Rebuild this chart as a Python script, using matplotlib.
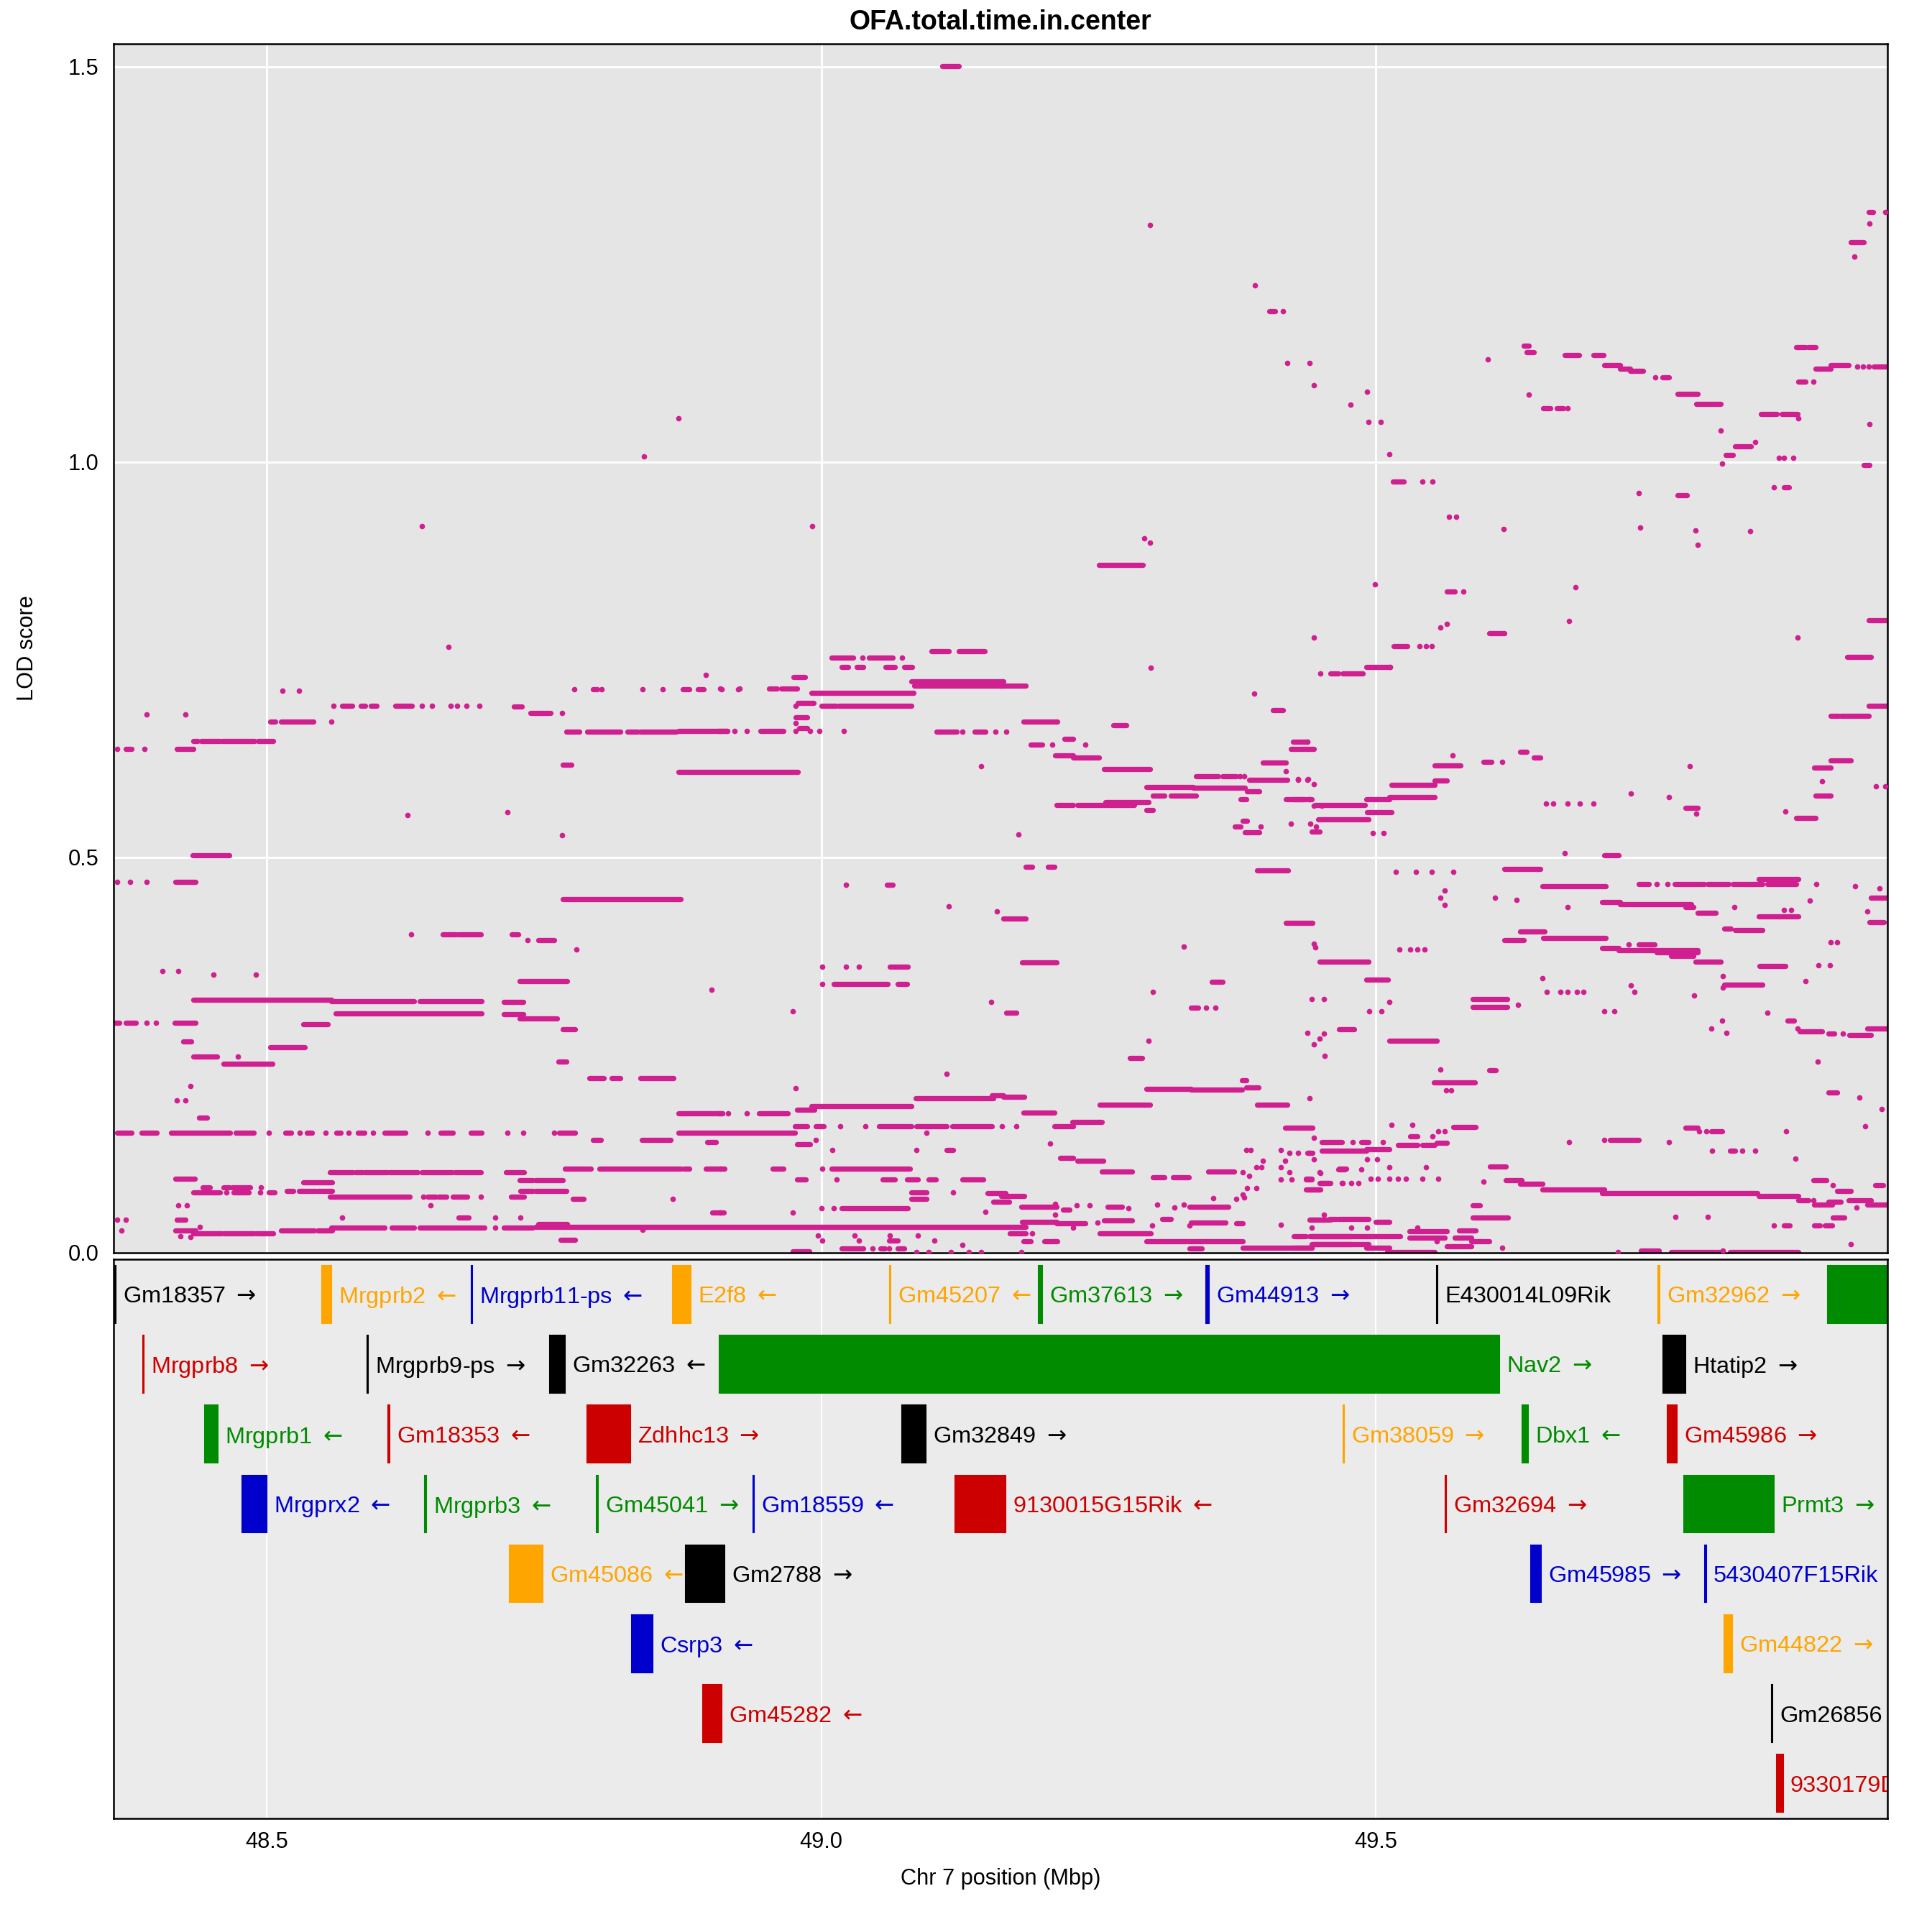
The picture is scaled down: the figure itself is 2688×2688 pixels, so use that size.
import matplotlib
matplotlib.use("Agg")
import matplotlib.pyplot as plt
from matplotlib.patches import Rectangle

plt.rcParams['font.family'] = ['Liberation Sans', 'DejaVu Sans']
plt.rcParams['mathtext.fontset'] = 'dejavusans'

# --- runs of SNPs sharing one LOD value: (start Mbp, end Mbp, LOD) ---
runs_left = [
    (48.568, 48.577, 0.692), (48.585, 48.589, 0.692), (48.594, 48.599, 0.692), (48.616, 48.631, 0.692),
    (48.723, 48.730, 0.691), (48.738, 48.756, 0.683),
    (48.794, 48.798, 0.713), (48.875, 48.881, 0.713), (48.889, 48.894, 0.713),
    (48.503, 48.508, 0.672), (48.513, 48.542, 0.672),
    (48.770, 48.782, 0.659), (48.789, 48.819, 0.659), (48.825, 48.834, 0.659), (48.837, 48.869, 0.659),
    (48.871, 48.915, 0.660),
    (48.434, 48.438, 0.647), (48.441, 48.458, 0.647), (48.460, 48.489, 0.647), (48.492, 48.506, 0.647),
    (48.373, 48.378, 0.637), (48.419, 48.434, 0.637),
    (48.767, 48.775, 0.617), (48.871, 48.979, 0.608),
    (48.433, 48.466, 0.503), (48.418, 48.436, 0.469), (48.767, 48.873, 0.447),
    (48.659, 48.671, 0.403), (48.673, 48.693, 0.403), (48.721, 48.727, 0.403), (48.745, 48.759, 0.395),
    (48.728, 48.771, 0.344),
    (48.434, 48.558, 0.320), (48.558, 48.633, 0.318), (48.638, 48.694, 0.318), (48.714, 48.731, 0.317),
    (48.562, 48.694, 0.303), (48.714, 48.731, 0.302), (48.728, 48.762, 0.296),
    (48.362, 48.367, 0.291), (48.373, 48.382, 0.291), (48.417, 48.436, 0.291),
    (48.533, 48.555, 0.289), (48.767, 48.778, 0.283), (48.425, 48.432, 0.267),
    (48.503, 48.534, 0.260), (48.434, 48.455, 0.248), (48.461, 48.505, 0.239), (48.763, 48.770, 0.242),
    (48.791, 48.804, 0.221), (48.811, 48.819, 0.221), (48.837, 48.867, 0.221),
    (48.871, 48.911, 0.176), (48.439, 48.446, 0.171),
    (48.365, 48.378, 0.152), (48.387, 48.401, 0.152), (48.414, 48.467, 0.152), (48.472, 48.488, 0.152),
    (48.517, 48.522, 0.152), (48.536, 48.541, 0.152), (48.563, 48.567, 0.152), (48.582, 48.588, 0.152),
    (48.606, 48.625, 0.152), (48.657, 48.668, 0.152), (48.684, 48.694, 0.152), (48.764, 48.778, 0.152),
    (48.871, 48.976, 0.152),
    (48.794, 48.801, 0.143), (48.838, 48.864, 0.143), (48.897, 48.905, 0.140),
    (48.769, 48.792, 0.106), (48.800, 48.873, 0.106), (48.876, 48.881, 0.106), (48.896, 48.913, 0.106),
    (48.557, 48.578, 0.102), (48.580, 48.587, 0.102), (48.589, 48.609, 0.102), (48.611, 48.636, 0.102),
    (48.640, 48.667, 0.102), (48.670, 48.693, 0.102), (48.716, 48.732, 0.102),
    (48.418, 48.435, 0.094), (48.728, 48.740, 0.092), (48.742, 48.767, 0.092), (48.533, 48.559, 0.089),
    (48.442, 48.449, 0.083), (48.461, 48.466, 0.083), (48.469, 48.485, 0.083),
    (48.729, 48.740, 0.078), (48.742, 48.770, 0.078), (48.529, 48.544, 0.078), (48.546, 48.559, 0.078),
    (48.518, 48.524, 0.078),
    (48.434, 48.458, 0.076), (48.470, 48.484, 0.076), (48.502, 48.507, 0.076),
    (48.557, 48.629, 0.071), (48.645, 48.652, 0.071), (48.655, 48.662, 0.071), (48.668, 48.681, 0.071),
    (48.720, 48.732, 0.071), (48.776, 48.786, 0.068),
    (48.902, 48.912, 0.051), (48.673, 48.682, 0.044), (48.419, 48.427, 0.042),
    (48.558, 48.606, 0.032), (48.613, 48.633, 0.032), (48.638, 48.696, 0.032), (48.714, 48.740, 0.032),
    (48.742, 49.184, 0.033), (48.745, 48.771, 0.036),
    (48.418, 48.436, 0.028), (48.513, 48.543, 0.028), (48.546, 48.559, 0.028),
    (48.434, 48.460, 0.024), (48.462, 48.489, 0.024), (48.491, 48.506, 0.024), (48.765, 48.778, 0.016),
]

runs_mid = [
    (49.109, 49.124, 1.501), (49.250, 49.290, 0.870),
    (49.099, 49.115, 0.761), (49.124, 49.147, 0.761),
    (49.009, 49.029, 0.753), (49.043, 49.064, 0.753),
    (49.018, 49.024, 0.741), (49.032, 49.038, 0.741), (49.058, 49.066, 0.741), (49.075, 49.082, 0.741),
    (48.975, 48.985, 0.728),
    (49.081, 49.164, 0.723), (49.084, 49.164, 0.717), (49.161, 49.184, 0.717),
    (48.953, 48.960, 0.714), (48.964, 48.978, 0.714), (48.991, 49.083, 0.708), (48.979, 48.993, 0.695),
    (49.000, 49.013, 0.692), (49.016, 49.081, 0.692), (49.407, 49.416, 0.686), (48.977, 48.987, 0.677),
    (49.182, 49.213, 0.672), (49.263, 49.275, 0.667), (48.980, 48.987, 0.664),
    (48.907, 48.915, 0.660), (48.945, 48.966, 0.660), (49.104, 49.122, 0.659), (49.138, 49.148, 0.659),
    (49.219, 49.227, 0.650), (49.425, 49.438, 0.646), (49.189, 49.199, 0.643), (49.423, 49.444, 0.637),
    (49.211, 49.227, 0.629), (49.227, 49.250, 0.626), (49.398, 49.419, 0.620), (49.255, 49.296, 0.612),
    (49.338, 49.358, 0.603), (49.362, 49.374, 0.603), (49.386, 49.420, 0.598),
    (49.293, 49.335, 0.589), (49.335, 49.382, 0.588), (49.384, 49.395, 0.584),
    (49.299, 49.309, 0.578), (49.315, 49.338, 0.578), (49.378, 49.383, 0.574), (49.419, 49.435, 0.574),
    (49.256, 49.295, 0.570), (49.212, 49.227, 0.566), (49.231, 49.256, 0.566), (49.257, 49.282, 0.566),
    (49.445, 49.490, 0.566), (49.293, 49.299, 0.560), (49.448, 49.493, 0.548), (49.380, 49.384, 0.546),
    (49.373, 49.378, 0.539), (49.442, 49.449, 0.533), (49.382, 49.395, 0.532),
    (49.184, 49.190, 0.488), (49.204, 49.210, 0.488), (49.393, 49.421, 0.484), (49.059, 49.064, 0.465),
    (49.164, 49.184, 0.423), (49.419, 49.443, 0.417), (49.449, 49.493, 0.368), (49.181, 49.212, 0.367),
    (49.062, 49.078, 0.362), (49.352, 49.362, 0.343), (49.011, 49.060, 0.340), (49.069, 49.077, 0.340),
    (49.333, 49.340, 0.310), (49.167, 49.176, 0.304), (49.467, 49.480, 0.283), (49.278, 49.289, 0.246),
    (49.379, 49.383, 0.218), (49.383, 49.394, 0.209), (49.293, 49.333, 0.207), (49.333, 49.379, 0.206),
    (49.154, 49.164, 0.199), (49.085, 49.155, 0.195), (49.164, 49.183, 0.197),
    (49.251, 49.296, 0.187), (49.393, 49.420, 0.187), (48.991, 49.081, 0.185), (48.978, 48.994, 0.181),
    (49.182, 49.210, 0.177), (48.907, 48.911, 0.176), (48.944, 48.970, 0.176),
    (49.226, 49.253, 0.165), (49.210, 49.227, 0.160),
    (48.976, 48.987, 0.160), (48.995, 49.002, 0.160), (49.052, 49.081, 0.160), (49.086, 49.113, 0.160),
    (49.118, 49.154, 0.160), (49.418, 49.443, 0.158),
    (48.978, 48.990, 0.137), (49.113, 49.119, 0.130), (49.215, 49.227, 0.120), (49.231, 49.254, 0.116),
    (48.956, 48.966, 0.106), (49.009, 49.080, 0.106), (49.253, 49.280, 0.103), (49.349, 49.372, 0.103),
    (49.299, 49.309, 0.095), (49.317, 49.331, 0.095),
    (48.978, 48.986, 0.093), (49.055, 49.066, 0.093), (49.077, 49.087, 0.093), (49.097, 49.103, 0.093),
    (49.127, 49.146, 0.093), (49.437, 49.442, 0.093),
    (49.449, 49.458, 0.088), (49.438, 49.449, 0.080), (49.081, 49.095, 0.076), (49.081, 49.095, 0.068),
    (49.150, 49.166, 0.075), (49.162, 49.183, 0.072), (49.155, 49.169, 0.064),
    (49.180, 49.212, 0.058), (49.332, 49.367, 0.058), (49.258, 49.271, 0.058), (49.218, 49.224, 0.054),
    (49.018, 49.078, 0.056), (49.307, 49.315, 0.043), (49.255, 49.280, 0.041),
    (49.181, 49.212, 0.039), (49.212, 49.238, 0.037), (49.333, 49.364, 0.038), (49.374, 49.380, 0.037),
    (49.441, 49.449, 0.042), (49.458, 49.464, 0.043), (49.467, 49.473, 0.106),
    (49.251, 49.297, 0.024), (49.170, 49.184, 0.024), (49.442, 49.478, 0.021),
    (49.293, 49.380, 0.014), (49.182, 49.189, 0.014), (49.201, 49.213, 0.014), (49.061, 49.069, 0.015),
    (49.442, 49.478, 0.011), (49.380, 49.442, 0.006), (49.332, 49.343, 0.005),
    (49.018, 49.038, 0.005), (49.053, 49.057, 0.005), (49.069, 49.075, 0.005), (48.974, 48.989, 0.002),
]

runs_right = [
    (49.925, 49.946, 0.754), (49.491, 49.513, 0.741), (49.459, 49.466, 0.733), (49.470, 49.488, 0.733),
    (49.944, 49.961, 0.692), (49.910, 49.917, 0.679), (49.919, 49.944, 0.679),
    (49.630, 49.636, 0.634), (49.642, 49.648, 0.626), (49.597, 49.604, 0.621), (49.910, 49.928, 0.623),
    (49.553, 49.576, 0.616), (49.895, 49.910, 0.614), (49.553, 49.564, 0.597), (49.514, 49.553, 0.592),
    (49.896, 49.910, 0.578), (49.512, 49.553, 0.576), (49.426, 49.442, 0.574), (49.491, 49.512, 0.574),
    (49.779, 49.790, 0.563), (49.492, 49.514, 0.557), (49.879, 49.896, 0.550), (49.706, 49.719, 0.503),
    (49.616, 49.648, 0.485), (49.845, 49.881, 0.473),
    (49.737, 49.746, 0.466), (49.769, 49.796, 0.466), (49.799, 49.818, 0.466), (49.822, 49.848, 0.466),
    (49.853, 49.879, 0.466), (49.650, 49.707, 0.464), (49.946, 49.961, 0.449),
    (49.704, 49.720, 0.444), (49.720, 49.784, 0.441), (49.779, 49.786, 0.437), (49.790, 49.806, 0.430),
    (49.845, 49.881, 0.425), (49.945, 49.958, 0.418), (49.814, 49.820, 0.410), (49.824, 49.848, 0.408),
    (49.630, 49.652, 0.406), (49.651, 49.707, 0.398), (49.616, 49.633, 0.395),
    (49.704, 49.719, 0.385), (49.719, 49.790, 0.383), (49.737, 49.751, 0.390), (49.753, 49.790, 0.380),
    (49.766, 49.786, 0.375), (49.788, 49.811, 0.368), (49.846, 49.869, 0.363), (49.491, 49.511, 0.345),
    (49.814, 49.848, 0.339), (49.587, 49.618, 0.321), (49.587, 49.618, 0.311), (49.871, 49.877, 0.294),
    (49.943, 49.961, 0.284), (49.882, 49.902, 0.280), (49.908, 49.913, 0.277), (49.927, 49.946, 0.275),
    (49.512, 49.555, 0.268), (49.602, 49.608, 0.231), (49.552, 49.589, 0.215), (49.908, 49.916, 0.203),
    (49.570, 49.590, 0.159), (49.779, 49.790, 0.158), (49.802, 49.812, 0.154), (49.531, 49.537, 0.147),
    (49.711, 49.737, 0.143), (49.451, 49.469, 0.140), (49.487, 49.493, 0.140), (49.555, 49.564, 0.139),
    (49.520, 49.537, 0.136), (49.542, 49.553, 0.136), (49.491, 49.512, 0.131), (49.451, 49.491, 0.129),
    (49.819, 49.824, 0.129), (49.438, 49.443, 0.126), (49.603, 49.617, 0.109), (49.466, 49.472, 0.105),
    (49.437, 49.442, 0.094), (49.894, 49.906, 0.092), (49.617, 49.631, 0.092), (49.450, 49.459, 0.088),
    (49.630, 49.650, 0.087), (49.950, 49.957, 0.085), (49.437, 49.450, 0.080), (49.650, 49.706, 0.080),
    (49.916, 49.928, 0.078), (49.704, 49.782, 0.075), (49.782, 49.844, 0.075), (49.845, 49.881, 0.072),
    (49.881, 49.890, 0.066), (49.926, 49.946, 0.066), (49.908, 49.919, 0.064),
    (49.895, 49.911, 0.061), (49.943, 49.961, 0.061), (49.587, 49.594, 0.060),
    (49.587, 49.619, 0.044), (49.912, 49.922, 0.044), (49.466, 49.493, 0.043), (49.440, 49.459, 0.042),
    (49.500, 49.512, 0.039), (49.868, 49.873, 0.034), (49.895, 49.900, 0.034), (49.905, 49.911, 0.034),
    (49.575, 49.590, 0.028), (49.530, 49.564, 0.027), (49.440, 49.522, 0.021), (49.426, 49.437, 0.021),
    (49.530, 49.562, 0.019), (49.571, 49.586, 0.019), (49.586, 49.602, 0.014), (49.444, 49.493, 0.011),
    (49.564, 49.586, 0.008), (49.426, 49.442, 0.006), (49.491, 49.512, 0.006), (49.739, 49.755, 0.003),
    (49.510, 49.553, 0.001), (49.766, 49.811, 0.001), (49.819, 49.881, 0.001),
]

runs_top = [
    (49.404, 49.409, 1.191), (49.515, 49.525, 0.975), (49.633, 49.638, 1.147), (49.636, 49.642, 1.139),
    (49.651, 49.657, 1.068), (49.663, 49.669, 1.068), (49.670, 49.683, 1.135), (49.696, 49.705, 1.135),
    (49.706, 49.720, 1.123), (49.720, 49.729, 1.118), (49.729, 49.741, 1.115), (49.758, 49.764, 1.107),
    (49.772, 49.790, 1.086), (49.789, 49.811, 1.074), (49.815, 49.822, 1.009), (49.824, 49.838, 1.020),
    (49.847, 49.861, 1.061), (49.866, 49.880, 1.061), (49.868, 49.872, 0.968),
    (49.879, 49.887, 1.145), (49.890, 49.896, 1.145), (49.881, 49.887, 1.102),
    (49.896, 49.910, 1.118), (49.910, 49.926, 1.123), (49.949, 49.962, 1.121), (49.940, 49.945, 0.996),
    (49.928, 49.940, 1.278), (49.944, 49.948, 1.316), (49.772, 49.780, 0.958),
    (49.564, 49.571, 0.836), (49.602, 49.616, 0.784), (49.516, 49.528, 0.767),
    (49.944, 49.962, 0.800),
]

# --- isolated SNPs: (Mbp, LOD) ---
snps_left = [
    (48.560, 0.692), (48.640, 0.692), (48.649, 0.692), (48.666, 0.692), (48.672, 0.692), (48.680, 0.692),
    (48.692, 0.692), (48.766, 0.683),
    (48.777, 0.713), (48.802, 0.713), (48.839, 0.713), (48.857, 0.713), (48.910, 0.713), (48.925, 0.713),
    (48.514, 0.711), (48.529, 0.711), (48.896, 0.731), (48.664, 0.766),
    (48.392, 0.681), (48.427, 0.681), (48.558, 0.672), (48.922, 0.660), (48.365, 0.637), (48.390, 0.637),
    (48.717, 0.557), (48.627, 0.554), (48.766, 0.528), (48.365, 0.469), (48.377, 0.469), (48.392, 0.469),
    (48.630, 0.403), (48.735, 0.395), (48.779, 0.384),
    (48.406, 0.356), (48.420, 0.356), (48.452, 0.352), (48.490, 0.352), (48.901, 0.333),
    (48.392, 0.291), (48.400, 0.291), (48.474, 0.248), (48.431, 0.211), (48.419, 0.193), (48.427, 0.193),
    (48.502, 0.152), (48.530, 0.152), (48.553, 0.152), (48.574, 0.152), (48.596, 0.152), (48.645, 0.152),
    (48.717, 0.152), (48.731, 0.152), (48.759, 0.152),
    (48.464, 0.076), (48.494, 0.076), (48.495, 0.083), (48.641, 0.071), (48.693, 0.071), (48.866, 0.068),
    (48.420, 0.060), (48.428, 0.060), (48.648, 0.060), (48.568, 0.044), (48.706, 0.044), (48.729, 0.044),
    (48.365, 0.042), (48.373, 0.042), (48.440, 0.033), (48.706, 0.032),
    (48.369, 0.028), (48.422, 0.021), (48.431, 0.020), (48.839, 0.029),
    (48.871, 1.055), (48.840, 1.007), (48.640, 0.919),
]

snps_mid = [
    (49.037, 0.753), (49.073, 0.753), (49.297, 0.740), (48.909, 0.714), (48.926, 0.714), (49.390, 0.707),
    (48.977, 0.692), (48.977, 0.670),
    (48.933, 0.660), (48.977, 0.660), (48.990, 0.660), (48.998, 0.660), (49.020, 0.660),
    (49.127, 0.659), (49.157, 0.659), (49.167, 0.659), (49.208, 0.643), (49.238, 0.643), (49.144, 0.615),
    (49.419, 0.609), (49.377, 0.603), (49.381, 0.603), (49.430, 0.598), (49.438, 0.598), (49.444, 0.593),
    (49.440, 0.574), (49.423, 0.543), (49.441, 0.543), (49.396, 0.539), (49.446, 0.539),
    (49.178, 0.529), (49.022, 0.465), (49.115, 0.438), (49.158, 0.432), (49.327, 0.387),
    (49.001, 0.362), (49.022, 0.362), (49.034, 0.362), (49.001, 0.340), (49.299, 0.330),
    (49.442, 0.321), (49.453, 0.321), (49.153, 0.317), (49.347, 0.310), (49.355, 0.310), (48.974, 0.305),
    (49.438, 0.278), (49.444, 0.264), (49.449, 0.271), (49.453, 0.277), (49.454, 0.249),
    (49.295, 0.268), (49.113, 0.226), (48.977, 0.208), (49.440, 0.195),
    (48.916, 0.176), (48.933, 0.176), (49.017, 0.160), (49.040, 0.160), (49.163, 0.160), (49.176, 0.160),
    (49.095, 0.152), (48.995, 0.143), (49.206, 0.138), (49.010, 0.130), (49.086, 0.130),
    (48.909, 0.106), (49.001, 0.106), (49.014, 0.093),
    (49.000, 0.056), (49.011, 0.056), (48.909, 0.051), (48.974, 0.051), (49.046, 0.005), (49.061, 0.005),
    (49.383, 0.130), (49.387, 0.130), (49.398, 0.116), (49.392, 0.108), (49.397, 0.108), (49.380, 0.102),
    (49.386, 0.097), (49.384, 0.082), (49.392, 0.082), (49.380, 0.074), (49.381, 0.070), (49.374, 0.068),
    (49.353, 0.069), (49.414, 0.130), (49.418, 0.116), (49.422, 0.126), (49.440, 0.126), (49.444, 0.145),
    (49.414, 0.108), (49.422, 0.102), (49.414, 0.093), (49.424, 0.093), (49.449, 0.102), (49.469, 0.088),
    (49.298, 0.034), (49.303, 0.061), (49.318, 0.057), (49.327, 0.061), (49.332, 0.034), (49.414, 0.035),
    (49.453, 0.048), (49.227, 0.032), (49.249, 0.038), (49.277, 0.056), (49.230, 0.060), (49.242, 0.060),
    (49.211, 0.048), (49.211, 0.062), (49.148, 0.052), (49.119, 0.076),
    (49.001, 0.015), (48.997, 0.022), (49.030, 0.022), (49.034, 0.015), (49.062, 0.022), (49.087, 0.022),
    (49.102, 0.015), (49.127, 0.010), (49.190, 0.024),
    (49.086, 0.001), (49.097, 0.001), (49.117, 0.001), (49.133, 0.001), (49.144, 0.001), (49.180, 0.001),
    (49.296, 1.300), (48.992, 0.919), (49.291, 0.904), (49.296, 0.898),
]

snps_right = [
    (49.450, 0.733), (49.438, 0.646), (49.569, 0.629), (49.614, 0.621), (49.783, 0.615),
    (49.430, 0.599), (49.439, 0.599), (49.902, 0.596), (49.951, 0.590), (49.959, 0.590),
    (49.730, 0.581), (49.764, 0.576),
    (49.653, 0.568), (49.660, 0.568), (49.673, 0.568), (49.684, 0.568), (49.696, 0.568),
    (49.444, 0.565), (49.451, 0.565), (49.869, 0.558), (49.789, 0.555),
    (49.497, 0.531), (49.507, 0.531), (49.670, 0.505),
    (49.518, 0.482), (49.536, 0.482), (49.550, 0.482), (49.570, 0.482),
    (49.753, 0.466), (49.763, 0.466), (49.897, 0.466), (49.932, 0.464), (49.954, 0.461),
    (49.562, 0.458), (49.558, 0.449), (49.607, 0.449), (49.627, 0.446), (49.891, 0.445), (49.562, 0.440),
    (49.673, 0.437), (49.823, 0.437), (49.868, 0.434), (49.874, 0.434), (49.943, 0.432),
    (49.910, 0.393), (49.916, 0.393), (49.444, 0.391), (49.445, 0.386), (49.728, 0.390),
    (49.521, 0.384), (49.531, 0.384), (49.537, 0.384), (49.544, 0.384),
    (49.899, 0.364), (49.909, 0.364), (49.813, 0.350), (49.650, 0.347), (49.887, 0.344),
    (49.730, 0.338), (49.813, 0.335),
    (49.654, 0.330), (49.666, 0.330), (49.673, 0.330), (49.681, 0.330), (49.687, 0.330), (49.733, 0.330),
    (49.787, 0.325), (49.512, 0.317), (49.628, 0.314),
    (49.494, 0.305), (49.505, 0.305), (49.706, 0.305), (49.715, 0.305), (49.853, 0.304),
    (49.812, 0.294), (49.802, 0.284), (49.880, 0.284), (49.816, 0.278), (49.921, 0.277),
    (49.898, 0.242), (49.558, 0.232), (49.563, 0.205), (49.568, 0.205), (49.936, 0.196), (49.956, 0.182),
    (49.514, 0.162), (49.533, 0.162), (49.941, 0.160),
    (49.791, 0.154), (49.798, 0.154), (49.870, 0.154), (49.556, 0.154), (49.562, 0.154),
    (49.551, 0.147), (49.706, 0.143), (49.479, 0.140), (49.506, 0.140), (49.674, 0.140), (49.764, 0.140),
    (49.803, 0.129), (49.830, 0.129), (49.842, 0.129), (49.430, 0.126), (49.878, 0.119),
    (49.444, 0.118), (49.492, 0.118), (49.501, 0.118), (49.512, 0.108), (49.545, 0.108), (49.487, 0.105),
    (49.450, 0.101),
    (49.495, 0.094), (49.502, 0.094), (49.512, 0.094), (49.520, 0.094), (49.527, 0.094), (49.542, 0.094),
    (49.556, 0.094), (49.597, 0.090), (49.470, 0.088), (49.478, 0.088), (49.484, 0.088), (49.912, 0.085),
    (49.894, 0.066), (49.933, 0.057), (49.770, 0.045), (49.799, 0.045),
    (49.859, 0.034), (49.442, 0.032), (49.478, 0.032), (49.492, 0.032), (49.537, 0.032),
    (49.555, 0.014), (49.928, 0.011), (49.614, 0.006), (49.813, 0.003), (49.718, 0.001),
]

snps_top = [
    (49.391, 1.224), (49.416, 1.191), (49.420, 1.125), (49.440, 1.125), (49.444, 1.097), (49.477, 1.073),
    (49.492, 1.089), (49.493, 1.051), (49.504, 1.051), (49.512, 1.010), (49.542, 0.975), (49.551, 0.975),
    (49.566, 0.931), (49.572, 0.931), (49.615, 0.915), (49.601, 1.130), (49.638, 1.085), (49.673, 1.068),
    (49.752, 1.107), (49.811, 1.040), (49.812, 0.998), (49.842, 1.025), (49.881, 1.055),
    (49.863, 1.005), (49.868, 1.005), (49.876, 1.005), (49.859, 0.968), (49.894, 1.102),
    (49.934, 1.121), (49.939, 1.121), (49.944, 1.121), (49.945, 1.048), (49.931, 1.260), (49.959, 1.316),
    (49.945, 1.302), (49.737, 0.961), (49.738, 0.917), (49.788, 0.914), (49.790, 0.895), (49.837, 0.913),
    (49.499, 0.845), (49.579, 0.836), (49.558, 0.791), (49.564, 0.795), (49.680, 0.842), (49.674, 0.799),
    (49.444, 0.778), (49.539, 0.767), (49.545, 0.767), (49.550, 0.767), (49.513, 0.741), (49.880, 0.778),
]

# --- genes ---
gene_names = ["Gm18357", "Mrgprb2", "Mrgprb11-ps", "E2f8", "Gm45207", "Gm37613", "Gm44913",
              "E430014L09Rik", "Gm32962", "",
              "Mrgprb8", "Mrgprb9-ps", "Gm32263", "Nav2", "Htatip2",
              "Mrgprb1", "Gm18353", "Zdhhc13", "Gm32849", "Gm38059", "Dbx1", "Gm45986",
              "Mrgprx2", "Mrgprb3", "Gm45041", "Gm18559", "9130015G15Rik", "Gm32694", "Prmt3",
              "Gm45086", "Gm2788", "Gm45985", "5430407F15Rik",
              "Csrp3", "Gm44822",
              "Gm45282", "Gm26856",
              "9330179D12Rik"]
gene_start = [48.3630, 48.550, 48.6845, 48.866, 49.0615, 49.1960, 49.3470,
              49.5545, 49.7545, 49.907,
              48.3885, 48.5905, 48.755, 48.908, 49.759,
              48.444, 48.6095, 48.789, 49.073, 49.4705, 49.632, 49.763,
              48.478, 48.6425, 48.7975, 48.9385, 49.121, 49.5625, 49.778,
              48.719, 48.878, 49.640, 49.7965,
              48.829, 49.814,
              48.893, 49.8565,
              49.861]
gene_end = [48.3640, 48.558, 48.6855, 48.882, 49.0625, 49.1990, 49.3495,
            49.5555, 49.7555, 50.100,
            48.3895, 48.5915, 48.769, 49.611, 49.779,
            48.456, 48.6105, 48.828, 49.094, 49.4715, 49.637, 49.771,
            48.500, 48.6435, 48.7985, 48.9395, 49.166, 49.5635, 49.859,
            48.749, 48.913, 49.649, 49.7975,
            48.848, 49.821,
            48.910, 49.8575,
            49.867]
gene_row = [0, 0, 0, 0, 0, 0, 0, 0, 0, 0,
            1, 1, 1, 1, 1,
            2, 2, 2, 2, 2, 2, 2,
            3, 3, 3, 3, 3, 3, 3,
            4, 4, 4, 4,
            5, 5,
            6, 6,
            7]
gene_strand = ["+", "-", "-", "-", "-", "+", "+", "", "+", "",
               "+", "+", "-", "+", "+",
               "-", "-", "+", "+", "+", "-", "+",
               "-", "-", "+", "-", "-", "+", "+",
               "-", "+", "+", "",
               "-", "+",
               "-", "",
               ""]
gene_color = ["#000000", "#FFA500", "#0000CD", "#FFA500", "#FFA500", "#008B00", "#0000CD",
              "#000000", "#FFA500", "#008B00",
              "#CD0000", "#000000", "#000000", "#008B00", "#000000",
              "#008B00", "#CD0000", "#CD0000", "#000000", "#FFA500", "#008B00", "#CD0000",
              "#0000CD", "#008B00", "#008B00", "#0000CD", "#CD0000", "#CD0000", "#008B00",
              "#FFA500", "#000000", "#0000CD", "#0000CD",
              "#0000CD", "#FFA500",
              "#CD0000", "#000000",
              "#CD0000"]

x_lim = (48.362, 49.961)
lod_lim = (0.0, 1.529)
x_ticks = [48.5, 49.0, 49.5]
x_labels = ["48.5", "49.0", "49.5"]
lod_ticks = [0.0, 0.5, 1.0, 1.5]
lod_labels = ["0.0", "0.5", "1.0", "1.5"]

point_color = "#D02090"

fig = plt.figure(figsize=(8.96, 8.96), dpi=300)
ax = fig.add_axes([0.0588, 0.3516, 0.9181, 0.6257])
axg = fig.add_axes([0.0588, 0.0588, 0.9181, 0.2894])

# --- LOD panel ---
ax.set_facecolor("#E5E5E5")
for xv in x_ticks:
    ax.axvline(xv, color="white", lw=0.7, zorder=0)
for yv in lod_ticks[1:]:
    ax.axhline(yv, color="white", lw=0.7, zorder=0)

all_runs = runs_left + runs_mid + runs_right + runs_top
ax.hlines([r[2] for r in all_runs], [r[0] for r in all_runs], [r[1] for r in all_runs],
          colors=point_color, linewidth=1.75, capstyle="round", zorder=2)
all_snps = snps_left + snps_mid + snps_right + snps_top
ax.scatter([p[0] for p in all_snps], [p[1] for p in all_snps], s=3.4, color=point_color,
           linewidths=0, zorder=3)

ax.set_xlim(*x_lim)
ax.set_ylim(*lod_lim)
ax.set_xticks(x_ticks)
ax.set_xticklabels([])
ax.set_yticks(lod_ticks)
ax.set_yticklabels(lod_labels)
ax.tick_params(length=0, labelsize=7.4, pad=5)
for sp in ax.spines.values():
    sp.set_color("black")
    sp.set_linewidth(0.6)

# --- gene panel ---
axg.set_facecolor("#EBEBEB")
for xv in x_ticks:
    axg.axvline(xv, color="white", lw=0.5, zorder=0)
arrows = {"+": r" $\rightarrow$", "-": r" $\leftarrow$", "": ""}
for name, s, e, r, st, c in zip(gene_names, gene_start, gene_end, gene_row, gene_strand, gene_color):
    axg.add_patch(Rectangle((s, r + 0.09), e - s, 0.82, facecolor=c, edgecolor=c,
                            linewidth=0.5, zorder=2))
    if name:
        axg.annotate(name + arrows[st], xy=(e, r + 0.5), xytext=(2.4, 0),
                     textcoords="offset points", ha="left", va="center_baseline",
                     color=c, fontsize=7.8, clip_on=True, annotation_clip=False, zorder=3)
axg.set_xlim(*x_lim)
axg.set_ylim(8, 0)
axg.set_yticks([])
axg.set_xticks(x_ticks)
axg.set_xticklabels(x_labels)
axg.tick_params(length=0, labelsize=7.4, pad=4.3)
for sp in axg.spines.values():
    sp.set_color("black")
    sp.set_linewidth(0.6)

fig.text(0.5179, 0.9885, "OFA.total.time.in.center", ha="center", va="center",
         fontsize=9, fontweight="bold")
fig.text(0.0141, 0.6644, "LOD score", rotation=90, ha="center", va="center", fontsize=7.4)
fig.text(0.5179, 0.0275, "Chr 7 position (Mbp)", ha="center", va="center", fontsize=7.4)

fig.savefig("out.png", dpi=300)
